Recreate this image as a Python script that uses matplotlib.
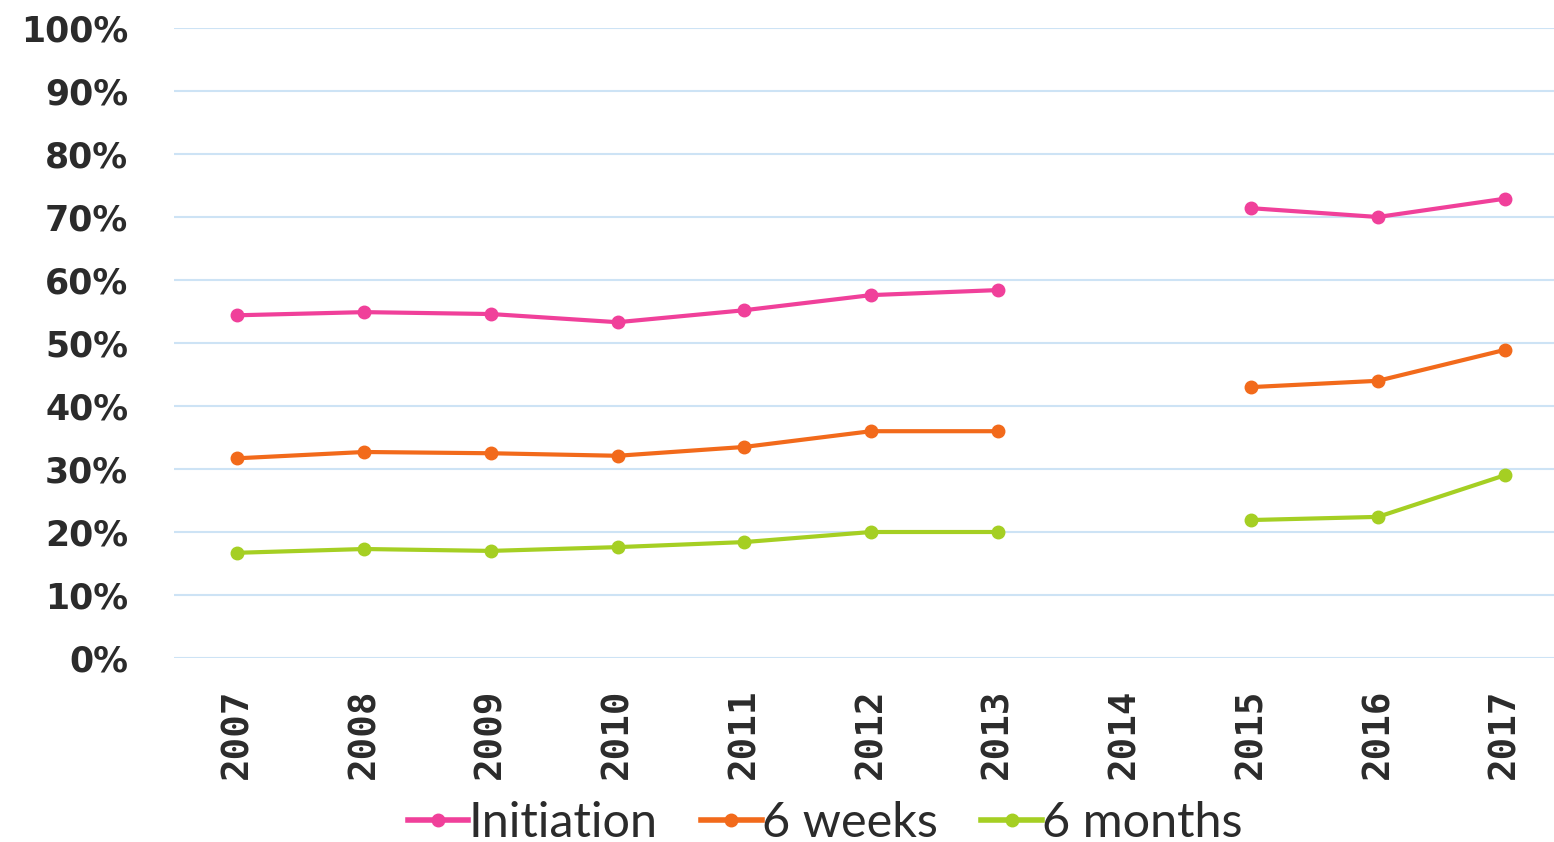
import matplotlib.pyplot as plt
import numpy as np

years = ["2007", "2008", "2009", "2010", "2011", "2012", "2013", "2014", "2015", "2016", "2017"]
initiation = [54.4, 54.9, 54.6, 53.3, 55.2, 57.6, 58.4, np.nan, 71.4, 70.0, 72.9]
six_weeks = [31.7, 32.7, 32.5, 32.1, 33.5, 36.0, 36.0, np.nan, 43.0, 44.0, 48.9]
six_months = [16.7, 17.3, 17.0, 17.6, 18.4, 20.0, 20.0, np.nan, 21.9, 22.4, 29.0]
y_ticks = [0, 10, 20, 30, 40, 50, 60, 70, 80, 90, 100]

TEXT = "#2b2b2b"


def main():
    fig = plt.figure(figsize=(15.54, 8.42), dpi=100)
    ax = fig.add_axes([174 / 1554, 1 - 658 / 842, (1568 - 174) / 1554, 630 / 842])

    x = np.arange(len(years))
    series = [
        ("Initiation", initiation, "#f0409a"),
        ("6 weeks", six_weeks, "#f26a1b"),
        ("6 months", six_months, "#a5cf23"),
    ]
    for name, vals, col in series:
        ax.plot(x, vals, color=col, lw=3, marker="o", ms=9, label=name, zorder=3)

    ax.set_xlim(-0.5, len(years) - 0.5)
    ax.set_ylim(0, 100)
    ax.set_yticks(y_ticks)
    ax.set_yticklabels([f"{v}%" for v in y_ticks], fontsize=25, fontweight="bold",
                       color=TEXT, family="DejaVu Sans")
    ax.set_xticks(x)
    ax.set_xticklabels(years, rotation=90, fontsize=27, fontweight="bold",
                       color=TEXT, family="DejaVu Sans Mono")
    ax.tick_params(length=0)
    ax.tick_params(axis="y", pad=33)
    ax.tick_params(axis="x", pad=22)
    ax.grid(axis="y", color="#cde3f5", lw=1.5)
    ax.set_axisbelow(True)
    for s in ax.spines.values():
        s.set_visible(False)

    leg = fig.legend(loc="center", bbox_to_anchor=(0.531, 1 - 823 / 842), ncol=3, frameon=False,
                     handlelength=1.25, handletextpad=0.0, columnspacing=0.9,
                     borderpad=0.0, prop={"family": "Lato", "size": 35})
    for t in leg.get_texts():
        t.set_color(TEXT)
    for h in leg.legend_handles:
        h.set_linewidth(4)

    fig.savefig("out.png", dpi=100)


if __name__ == "__main__":
    main()
